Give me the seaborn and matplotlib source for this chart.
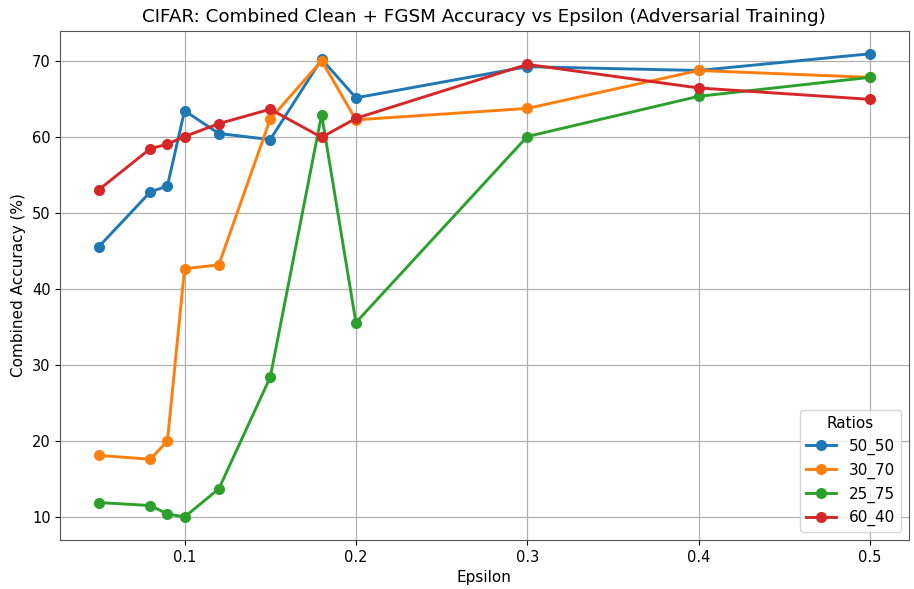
import matplotlib
matplotlib.use("Agg")
import matplotlib.pyplot as plt
import seaborn as sns
import pandas as pd

epsilons = [0.05, 0.08, 0.09, 0.1, 0.12, 0.15, 0.18, 0.2, 0.3, 0.4, 0.5]
ratios = ["50_50", "30_70", "25_75", "60_40"]

acc_50_50 = [45.6, 52.8, 53.6, 63.5, 60.5, 59.7, 70.3, 65.2, 69.3, 68.8, 71.0]
acc_30_70 = [18.1, 17.6, 20.0, 42.7, 43.2, 62.4, 70.1, 62.3, 63.8, 68.8, 67.9]
acc_25_75 = [11.9, 11.5, 10.4, 10.0, 13.7, 28.4, 63.0, 35.6, 60.1, 65.4, 67.9]
acc_60_40 = [53.1, 58.5, 59.1, 60.1, 61.8, 63.7, 60.0, 62.5, 69.6, 66.5, 65.0]

series = {
    "50_50": acc_50_50,
    "30_70": acc_30_70,
    "25_75": acc_25_75,
    "60_40": acc_60_40,
}

rows = []
for name in ratios:
    for eps, acc in zip(epsilons, series[name]):
        rows.append({"Epsilon": eps, "Accuracy": acc, "Ratios": name})
df = pd.DataFrame(rows)

fig, ax = plt.subplots(figsize=(9.14, 5.89), dpi=100)
sns.lineplot(
    data=df, x="Epsilon", y="Accuracy", hue="Ratios", hue_order=ratios,
    palette="tab10", marker="o", markersize=8, markeredgewidth=0,
    linewidth=2.1, ax=ax,
)
ax.grid(True, color="#b0b0b0", linewidth=0.9)
ax.set_axisbelow(True)
ax.set_title("CIFAR: Combined Clean + FGSM Accuracy vs Epsilon (Adversarial Training)", fontsize=13.2)
ax.set_xlabel("Epsilon", fontsize=11)
ax.set_ylabel("Combined Accuracy (%)", fontsize=11)
ax.set_xticks([0.1, 0.2, 0.3, 0.4, 0.5])
ax.set_yticks([10, 20, 30, 40, 50, 60, 70])
ax.tick_params(labelsize=10.5)
ax.legend(title="Ratios", loc="lower right", fontsize=11, title_fontsize=11)
for s in ax.spines.values():
    s.set_color("#555555")

fig.subplots_adjust(left=0.066, right=0.994, top=0.948, bottom=0.083)
fig.savefig("out.png", dpi=100)
